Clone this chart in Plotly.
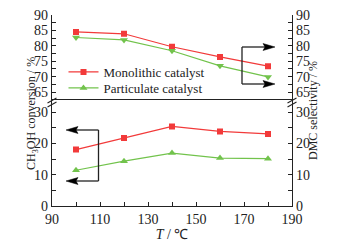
import plotly.graph_objects as go

# ---- data ----
temps = [100, 120, 140, 160, 180]
mono_conv = [18.0, 21.7, 25.4, 23.8, 23.0]        # CH3OH conversion, monolithic
part_conv = [11.4, 14.3, 16.9, 15.3, 15.1]        # CH3OH conversion, particulate
mono_sel = [84.5, 83.9, 79.7, 76.4, 73.4]         # DMC selectivity, monolithic
part_sel = [82.7, 81.9, 78.4, 73.5, 69.9]         # DMC selectivity, particulate
series_names = ["Monolithic catalyst", "Particulate catalyst"]
x_ticks = [90, 110, 130, 150, 170, 190]
low_ticks = [0, 10, 20, 30]
up_ticks = [65, 70, 75, 80, 85, 90]

RED = "#f23a3a"
GREEN = "#72c34c"
INK = "#222222"
FONT = "Liberation Serif, Times New Roman, serif"

W, H = 343, 247
L, R, T, B = 52, 292, 15, 206
split = (B - 99.6) / (B - T)


def px(x):
    return (x - L) / (R - L)


def py(y):
    return (B - y) / (B - T)


fig = go.Figure()
# lower panel (conversion)
fig.add_trace(go.Scatter(x=temps, y=mono_conv, name=series_names[0], mode="lines+markers",
                         line=dict(color=RED, width=1.2), legend="legend",
                         marker=dict(symbol="square", size=6, color=RED), yaxis="y"))
fig.add_trace(go.Scatter(x=temps, y=part_conv, name=series_names[1], mode="lines+markers",
                         line=dict(color=GREEN, width=1.2), legend="legend2",
                         marker=dict(symbol="triangle-up", size=7, color=GREEN), yaxis="y"))
# upper panel (selectivity)
fig.add_trace(go.Scatter(x=temps, y=mono_sel, mode="lines+markers", showlegend=False,
                         line=dict(color=RED, width=1.2),
                         marker=dict(symbol="square", size=6, color=RED), yaxis="y2"))
fig.add_trace(go.Scatter(x=temps, y=part_sel, mode="lines+markers", showlegend=False,
                         line=dict(color=GREEN, width=1.2),
                         marker=dict(symbol="triangle-down", size=7, color=GREEN), yaxis="y2"))

axis_common = dict(showline=True, linecolor=INK, linewidth=1.3, ticks="inside",
                   ticklen=4, tickwidth=1.1, tickcolor=INK, showgrid=False, zeroline=False,
                   automargin=False,
                   tickfont=dict(family=FONT, size=14, color=INK))

low_range = [0, (B - 99.6) / 3.133]
up_range = [90 - (99.6 - T) / 3.08, 90]

legend_common = dict(xanchor="left", yanchor="top", bgcolor="rgba(0,0,0,0)",
                     font=dict(family=FONT, size=13, color=INK), itemwidth=30)

fig.update_layout(
    width=W, height=H,
    margin=dict(l=L, r=W - R, t=T, b=H - B, autoexpand=False),
    paper_bgcolor="white", plot_bgcolor="white",
    font=dict(family=FONT, size=13, color=INK),
    xaxis=dict(range=[90, 190], tickvals=x_ticks, mirror=True,
               minor=dict(dtick=10, tick0=90, ticks="inside", ticklen=4, tickcolor=INK),
               title=dict(text="<i>T</i> / ℃", font=dict(family=FONT, size=14), standoff=2),
               **axis_common),
    yaxis=dict(domain=[0, split], range=low_range, tickvals=low_ticks,
               minor=dict(dtick=5, tick0=0, ticks="inside", ticklen=4, tickcolor=INK),
               **axis_common),
    yaxis2=dict(domain=[split, 1], range=up_range, tickvals=up_ticks,
                minor=dict(dtick=2.5, tick0=65, ticks="inside", ticklen=4, tickcolor=INK),
                **axis_common),
    yaxis3=dict(overlaying="y", side="right", range=low_range, tickvals=low_ticks,
                minor=dict(dtick=5, tick0=0, ticks="inside", ticklen=4, tickcolor=INK),
                **axis_common),
    yaxis4=dict(overlaying="y2", side="right", range=up_range, tickvals=up_ticks,
                minor=dict(dtick=2.5, tick0=65, ticks="inside", ticklen=4, tickcolor=INK),
                **axis_common),
    legend=dict(x=px(63.5), y=py(57), **legend_common),
    legend2=dict(x=px(63.5), y=py(73), **legend_common),
    showlegend=True,
)

# dummy traces so the right axes render
fig.add_trace(go.Scatter(x=[None], y=[None], yaxis="y3", showlegend=False, hoverinfo="skip"))
fig.add_trace(go.Scatter(x=[None], y=[None], yaxis="y4", showlegend=False, hoverinfo="skip"))

shapes = []


def seg(x0, y0, x1, y1, w=1.3):
    shapes.append(dict(type="line", xref="paper", yref="paper",
                       x0=px(x0), y0=py(y0), x1=px(x1), y1=py(y1),
                       line=dict(color=INK, width=w)))


def head(tipx, y, direction):
    base = tipx - 12 * direction
    path = (f"M {px(tipx)} {py(y)} L {px(base)} {py(y - 3.5)} "
            f"L {px(base + 2 * direction)} {py(y)} L {px(base)} {py(y + 3.5)} Z")
    shapes.append(dict(type="path", xref="paper", yref="paper", path=path,
                       fillcolor="black", line=dict(color="black", width=0.5)))


# left bracket + arrows (conversion -> left axis)
seg(98.5, 130, 98.5, 181)
seg(98.5, 130, 74, 130)
seg(98.5, 181, 74, 181)
head(66, 130, -1)
head(66, 181, -1)
# right bracket + arrows (selectivity -> right axis)
seg(242, 47, 242, 84)
seg(242, 47, 266, 47)
seg(242, 84, 266, 84)
head(275, 47, 1)
head(275, 84, 1)
# axis break marks
for ax_x in (L, R):
    seg(ax_x - 4.5, 103, ax_x + 4.5, 98, 1.1)
    seg(ax_x - 4.5, 107, ax_x + 4.5, 102, 1.1)

fig.update_layout(shapes=shapes)

fig.add_annotation(text="CH<sub>3</sub>OH conversion / %", xref="paper", yref="paper",
                   x=px(22), y=py(114), textangle=-90, showarrow=False,
                   font=dict(family=FONT, size=12, color=INK))
fig.add_annotation(text="DMC selectivity / %", xref="paper", yref="paper",
                   x=px(322), y=py(111), textangle=-90, showarrow=False,
                   font=dict(family=FONT, size=12, color=INK))

fig.write_html("out.html", config={"displayModeBar": False},
               post_script="document.body.style.margin='0';")
